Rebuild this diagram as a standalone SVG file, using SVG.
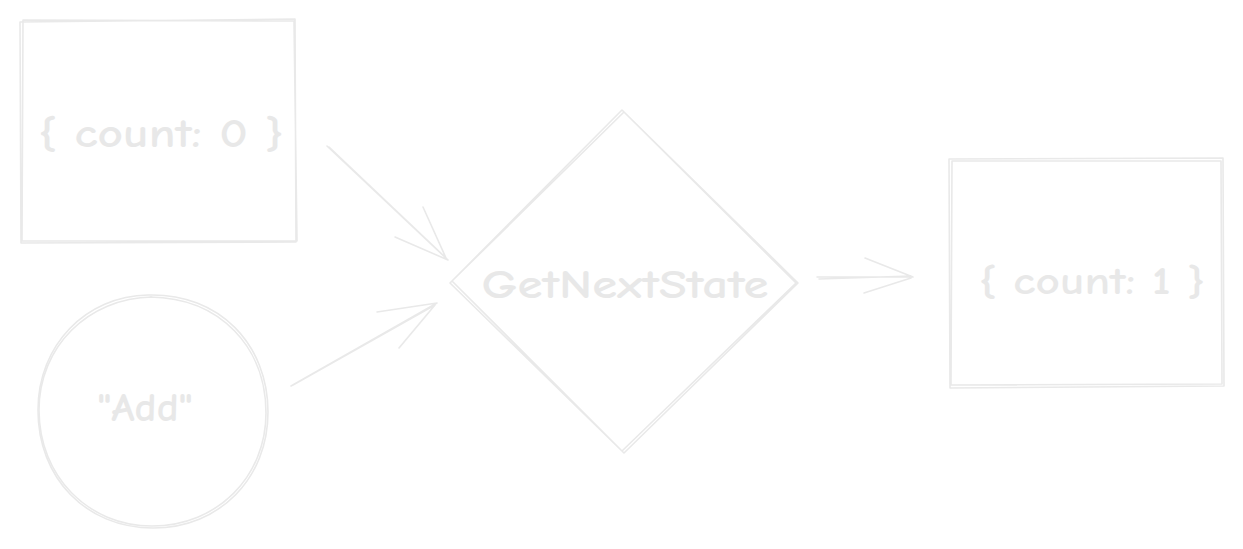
<svg xmlns="http://www.w3.org/2000/svg" width="1243" height="549" viewBox="0 0 1243 549">
<style>
.s{fill:none;stroke:#e9e9e9;stroke-width:1.6;stroke-linecap:round;stroke-linejoin:round}
.t{fill:#e8e8e8;font-family:"Comic Neue","Liberation Sans",sans-serif;font-weight:bold}
</style>
<rect width="1243" height="549" fill="#ffffff"/>
<g id="connectors">
<path class="s" d="M327 146 L448 260 M329 147 L446 258 M395 237 L448 260 M423 207 L446 258"/>
<path class="s" d="M291 386 L437 303 M293 385 L435 305 M377 312 L437 303 M399 348 L435 305"/>
<path class="s" d="M817 277 L913 277 M819 279 L911 276 M865 258 L913 277 M864 293 L911 278"/>
</g>
<g id="state0">
<path class="s" d="M20 22 L295 19 L296 242 L21 243 Z M23 20 L294 21 L297 241 L22 241 Z"/>
<text class="t" x="161" y="147" font-size="40" text-anchor="middle" textLength="246" lengthAdjust="spacingAndGlyphs">{ count: 0 }</text>
</g>
<g id="action">
<path class="s" d="M148 295 C220 293 268 345 268 412 C268 478 220 528 153 528 C86 528 38 478 38 410 C38 345 86 296 148 295 Z"/>
<path class="s" d="M150 297 C221 298 266 348 266 413 C266 476 218 526 152 526 C88 526 39 476 39 410 C39 347 88 298 152 297"/>
<text class="t" x="145" y="421" font-size="40" text-anchor="middle" textLength="95" lengthAdjust="spacingAndGlyphs">"Add"</text>
</g>
<g id="reducer">
<path class="s" d="M622 110 L798 283 L624 453 L450 283 Z M624 112 L796 283 L622 451 L452 281 Z"/>
<text class="t" x="625" y="298" font-size="40" text-anchor="middle" textLength="287" lengthAdjust="spacingAndGlyphs">GetNextState</text>
</g>
<g id="state1">
<path class="s" d="M949 159 L1223 158 L1224 386 L950 388 Z M952 161 L1221 161 L1222 384 L951 385 Z"/>
<text class="t" x="1092" y="294" font-size="38" text-anchor="middle" textLength="227" lengthAdjust="spacingAndGlyphs">{ count: 1 }</text>
</g>
</svg>
